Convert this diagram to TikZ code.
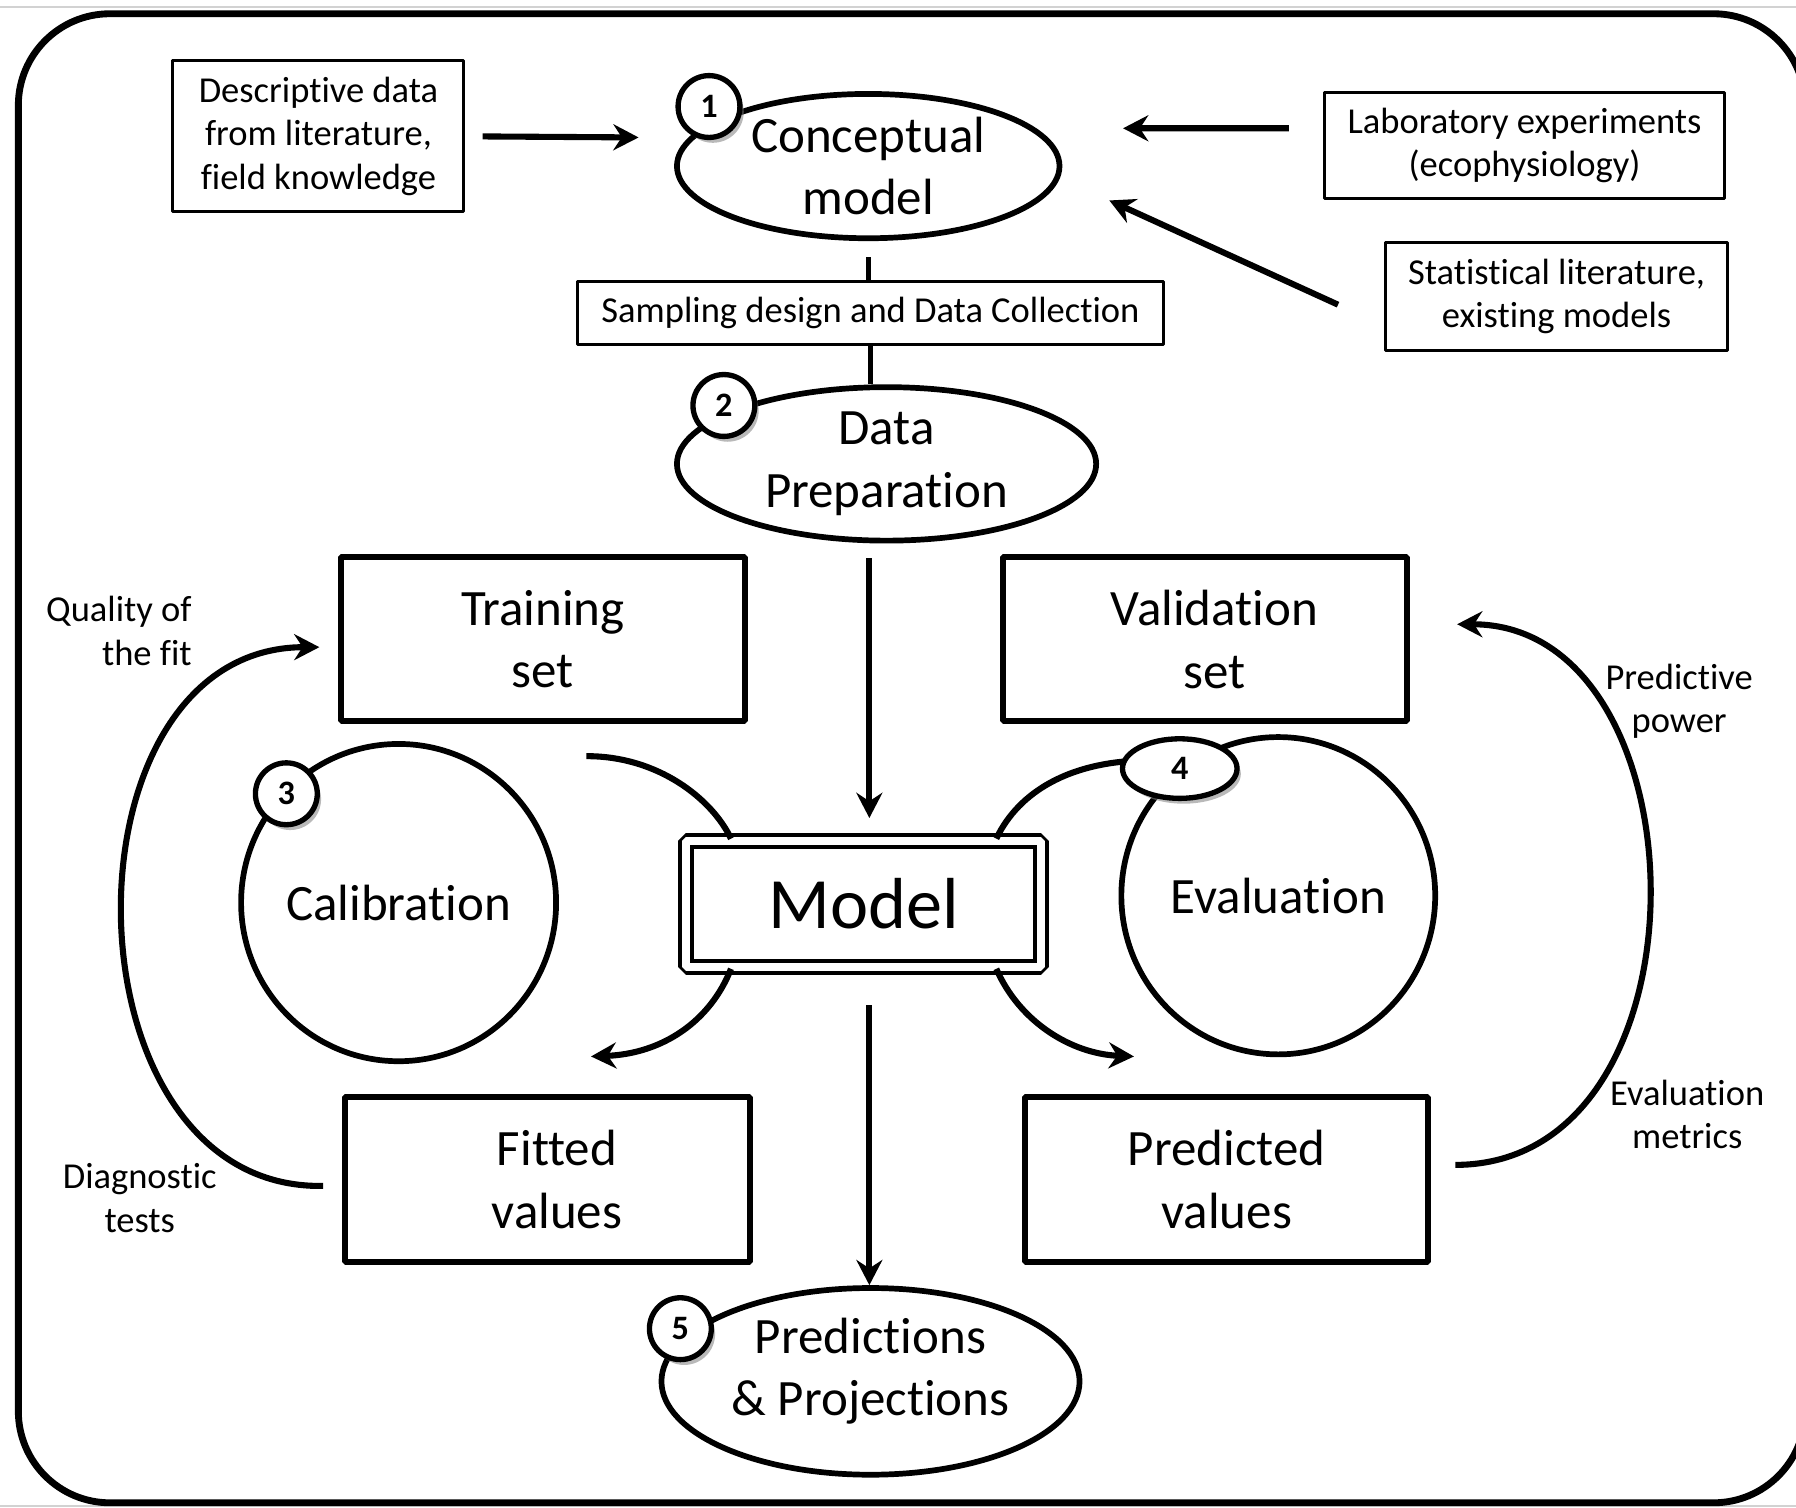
\documentclass[tikz,border=0pt]{standalone}
\usepackage{fontspec}
\setmainfont{Carlito}[Ligatures={NoCommon,NoContextual,NoRare},RawFeature={-liga;-clig;-calt;-dlig}]
\usetikzlibrary{arrows.meta,shapes.geometric,shadows}
\begin{document}
\begin{tikzpicture}[>={Stealth[length=6.6bp,width=6.8bp,inset=2.2bp]},line join=bevel,x=0.3bp,y=-0.3bp,
  srcbox/.style={draw,line width=0.8pt,align=center,inner sep=0pt,font=\fontsize{9.6}{11.4}\selectfont},
  setbox/.style={draw,line width=1.6pt,align=center,inner sep=0pt,font=\fontsize{13.4}{16.5}\selectfont},
  stage/.style={draw,ellipse,line width=1.5pt,inner sep=0pt},
  stagetxt/.style={align=center,inner sep=0pt,font=\fontsize{13.4}{16.5}\selectfont},
  note/.style={align=center,inner sep=0pt,font=\fontsize{9.6}{11.4}\selectfont},
  badge/.style={draw,circle,fill=white,line width=1.4pt,minimum size=16.2bp,inner sep=0pt,
    font=\fontsize{9}{10}\selectfont\bfseries,drop shadow={opacity=0.55,shadow xshift=1bp,shadow yshift=-1.4bp}},
  flow/.style={line width=1.6pt},
]
%%
\useasboundingbox (0,0) rectangle (1568,1316);
\draw [gray!35,line width=0.5pt] (0,6) -- (1568,6);
\draw [gray!35,line width=0.5pt] (0,1315) -- (1568,1315);
\draw [line width=1.8pt,rounded corners=24bp] (16,12) rectangle (1576,1312);
%
\node (node_desc) at (278,119) [srcbox,minimum width=76.2bp,minimum height=39.6bp] {Descriptive data\\from literature,\\field knowledge};
  \node (node_lab) at (1331,127) [srcbox,minimum width=104.7bp,minimum height=27.9bp] {Laboratory experiments\\(ecophysiology)};
  \node (node_stat) at (1359,259) [srcbox,minimum width=89.7bp,minimum height=28.2bp] {Statistical literature,\\existing models};
  \node (node_concept) at (758,145) [stage,minimum width=100.2bp,minimum height=37.8bp,label={[stagetxt]center:Conceptual\\model}] {};
  \node (node_sample) at (760,273) [srcbox,minimum width=153.6bp,minimum height=16.5bp] {Sampling design and Data Collection};
  \node (node_prep) at (774,405) [stage,minimum width=109.8bp,minimum height=40.2bp,label={[stagetxt]center:Data\\Preparation}] {};
  \node (node_train) at (474,558) [setbox,minimum width=105.9bp,minimum height=42.9bp] {Training\\set};
  \node (node_valid) at (1052,558) [setbox,minimum width=105.9bp,minimum height=42.9bp] {\hspace*{5bp}Validation\\\hspace*{5bp}set};
  \node (node_calib) at (348,788) [stage,minimum width=82.5bp,minimum height=83.1bp,label={[stagetxt]center:Calibration}] {};
  \node (node_eval) at (1116,782) [stage,minimum width=82.2bp,minimum height=83.1bp,label={[stagetxt]center:Evaluation}] {};
  \node (node_model) at (754,789) [draw,double,line width=1.1pt,double distance=2pt,minimum width=93bp,minimum height=33bp,inner sep=0pt,font=\fontsize{19}{22}\selectfont] {Model};
  \node (node_fit) at (478,1030) [setbox,minimum width=105.9bp,minimum height=43.2bp] {\hspace*{5bp}Fitted\\\hspace*{5bp}values};
  \node (node_pred) at (1071,1030) [setbox,minimum width=105.6bp,minimum height=43.2bp] {Predicted\\values};
  \node (node_proj) at (760,1206) [stage,minimum width=109.5bp,minimum height=48.9bp,label={[stagetxt,yshift=2.7bp]center:Predictions\\\& Projections}] {};
%
\node (node_quality) at (168,551) [note,anchor=east,align=right] {Quality of\\the fit};
  \node (node_diag) at (122,1046) [note] {Diagnostic\\tests};
  \node (node_power) at (1466,612) [note] {Predictive\\power};
  \node (node_metric) at (1473,973) [note] {Evaluation\\metrics};
%
\draw [flow,->,shorten <=4.5bp] (node_desc.east) -- ([xshift=-9.3bp,yshift=7.5bp]node_concept.west);
  \draw [flow,->] ([xshift=-9bp,yshift=4.5bp]node_lab.west) -- ([xshift=15.9bp,yshift=9.9bp]node_concept.east);
  \draw [flow,->] ([xshift=-12bp,yshift=-2.1bp]node_stat.west) -- ([xshift=12.3bp,yshift=-9bp]node_concept.east);
  \draw [line width=1.2pt,shorten <=4.2bp] (node_concept.south) -- (node_concept.south |- node_sample.north);
  \draw [line width=1.2pt] (node_sample.south) -- (node_sample.south |- node_prep.north);
  \draw [flow,->,shorten <=3.9bp,shorten >=5.4bp] ([xshift=1.5bp]node_prep.south -| node_model.north) -- ([xshift=1.5bp]node_model.north);
  \draw [flow,->,shorten <=9.6bp] ([xshift=1.5bp]node_model.south) -- ([xshift=1.5bp]node_model.south |- node_proj.north);
%
\draw [flow] ([xshift=11.4bp,yshift=-8.4bp]node_train.south) ..controls (575,660) and (622,698) .. ([xshift=12.3bp]node_model.north west);
  \draw [flow,->] ([xshift=12.3bp]node_model.south west) ..controls (620,892) and (578,920) .. ([xshift=11.4bp,yshift=9.9bp]node_fit.north);
  \draw [flow] ([xshift=-12.3bp]node_model.north east) ..controls (890,690) and (935,666) .. ([xshift=-36.3bp,yshift=-6.9bp]node_eval.north);
  \draw [flow,->] ([xshift=-12.3bp]node_model.south east) ..controls (890,892) and (935,920) .. ([xshift=-24.3bp,yshift=9.9bp]node_pred.north);
  \draw [flow,->,shorten <=5bp,shorten >=4.8bp] ([yshift=-1.5bp]node_fit.west) ..controls (52,1040) and (47,565) .. ([yshift=-2.1bp]node_train.west);
  \draw [flow,->,shorten <=6.3bp,shorten >=12.3bp] ([yshift=3.9bp]node_pred.east) ..controls (1500,1017) and (1491,545) .. ([yshift=3.9bp]node_valid.east);
%
\node (node_b1) at (619,93) [badge] {1};
  \node (node_b2) at (632,354) [badge] {2};
  \node (node_b3) at (250,693) [badge] {3};
  \node (node_b4) at (1030,671) [badge,ellipse,minimum width=30bp,minimum height=15.6bp] {4};
  \node (node_b5) at (594,1160) [badge] {5};
%
\end{tikzpicture}
\end{document}
